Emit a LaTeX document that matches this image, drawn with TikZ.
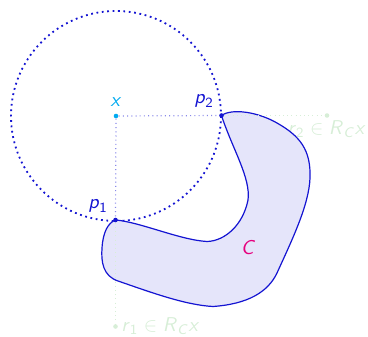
\documentclass[tikz,border=0pt]{standalone}
\usepackage{amsmath}
\newcommand\sv[1]{\textsf{\textit{#1}}}
\definecolor{cblue}{RGB}{20,20,210}
\definecolor{cfill}{RGB}{229,229,250}
\definecolor{ccyan}{RGB}{0,170,240}
\definecolor{cmag}{RGB}{230,0,126}
\definecolor{cgreen}{RGB}{215,238,215}
\tikzset{
  dotpt/.style={circle,fill=#1,inner sep=0pt,minimum size=2.3pt},
  faint/.style={cgreen,dash pattern=on 0.5pt off 1.6pt,line width=0.5pt},
  guide/.style={cblue!50,dash pattern=on 0.5pt off 1.6pt,line width=0.6pt},
  lbl/.style={inner sep=1pt}
}
\begin{document}
\begin{tikzpicture}[x=0.5pt,y=-0.5pt]
\useasboundingbox (0,0) rectangle (368,336);
\coordinate (xc) at (116,116);
% faint labels (behind)
\node[lbl,text=cgreen,anchor=north east] (l2) at (368,118) {$\sv{r}_{\textsf{2}}\in \sv{R}_{\sv{C}}\sv{x}$};
\node[lbl,text=cgreen,anchor=west] (l1) at (119,326) {$\sv{r}_{\textsf{1}}\in \sv{R}_{\sv{C}}\sv{x}$};
% circle
\draw[cblue,dash pattern=on 0.9pt off 1.8pt,line width=0.9pt] (xc) circle[radius=105];
% shape C
\draw[cblue,fill=cfill,line width=0.6pt]
  (221.5,115.5) .. controls (232,108) and (258,112) .. (277,123)
  .. controls (300,136) and (311,150) .. (310,178)
  .. controls (309,205) and (292,240) .. (277,273)
  .. controls (268,292) and (248,304) .. (213,306.5)
  .. controls (185,305) and (150,292) .. (118,281)
  .. controls (103,276) and (101,262) .. (102,248)
  .. controls (103,232) and (108,223) .. (115.5,220)
  .. controls (140,222) and (180,240) .. (207,241.5)
  .. controls (225,241) and (243,225) .. (248,200)
  .. controls (251,178) and (232,148) .. (221.5,115.5) -- cycle;
% points
\node[dotpt=cblue] (p2) at (221.5,115.5) {};
\node[dotpt=cblue] (p1) at (115.5,220) {};
\node[dotpt=ccyan] (x) at (xc) {};
\node[dotpt=cgreen] (r2) at (327,115.5) {};
\node[dotpt=cgreen] (r1) at (115.5,326.5) {};
\draw[guide] (x) -- (p2);
\draw[guide] (x) -- (p1);
\draw[faint] (p2) -- (r2);
\draw[faint] (p1) -- (r1);
% labels
\node[lbl,text=ccyan,anchor=south] at (116,109) {$\sv{x}$};
\node[lbl,text=cblue] at (204,101) {$\sv{p}_{\textsf{2}}$};
\node[lbl,text=cblue] at (98,206) {$\sv{p}_{\textsf{1}}$};
\node[lbl,text=cmag] at (248,248) {$\sv{C}$};
\end{tikzpicture}
\end{document}
